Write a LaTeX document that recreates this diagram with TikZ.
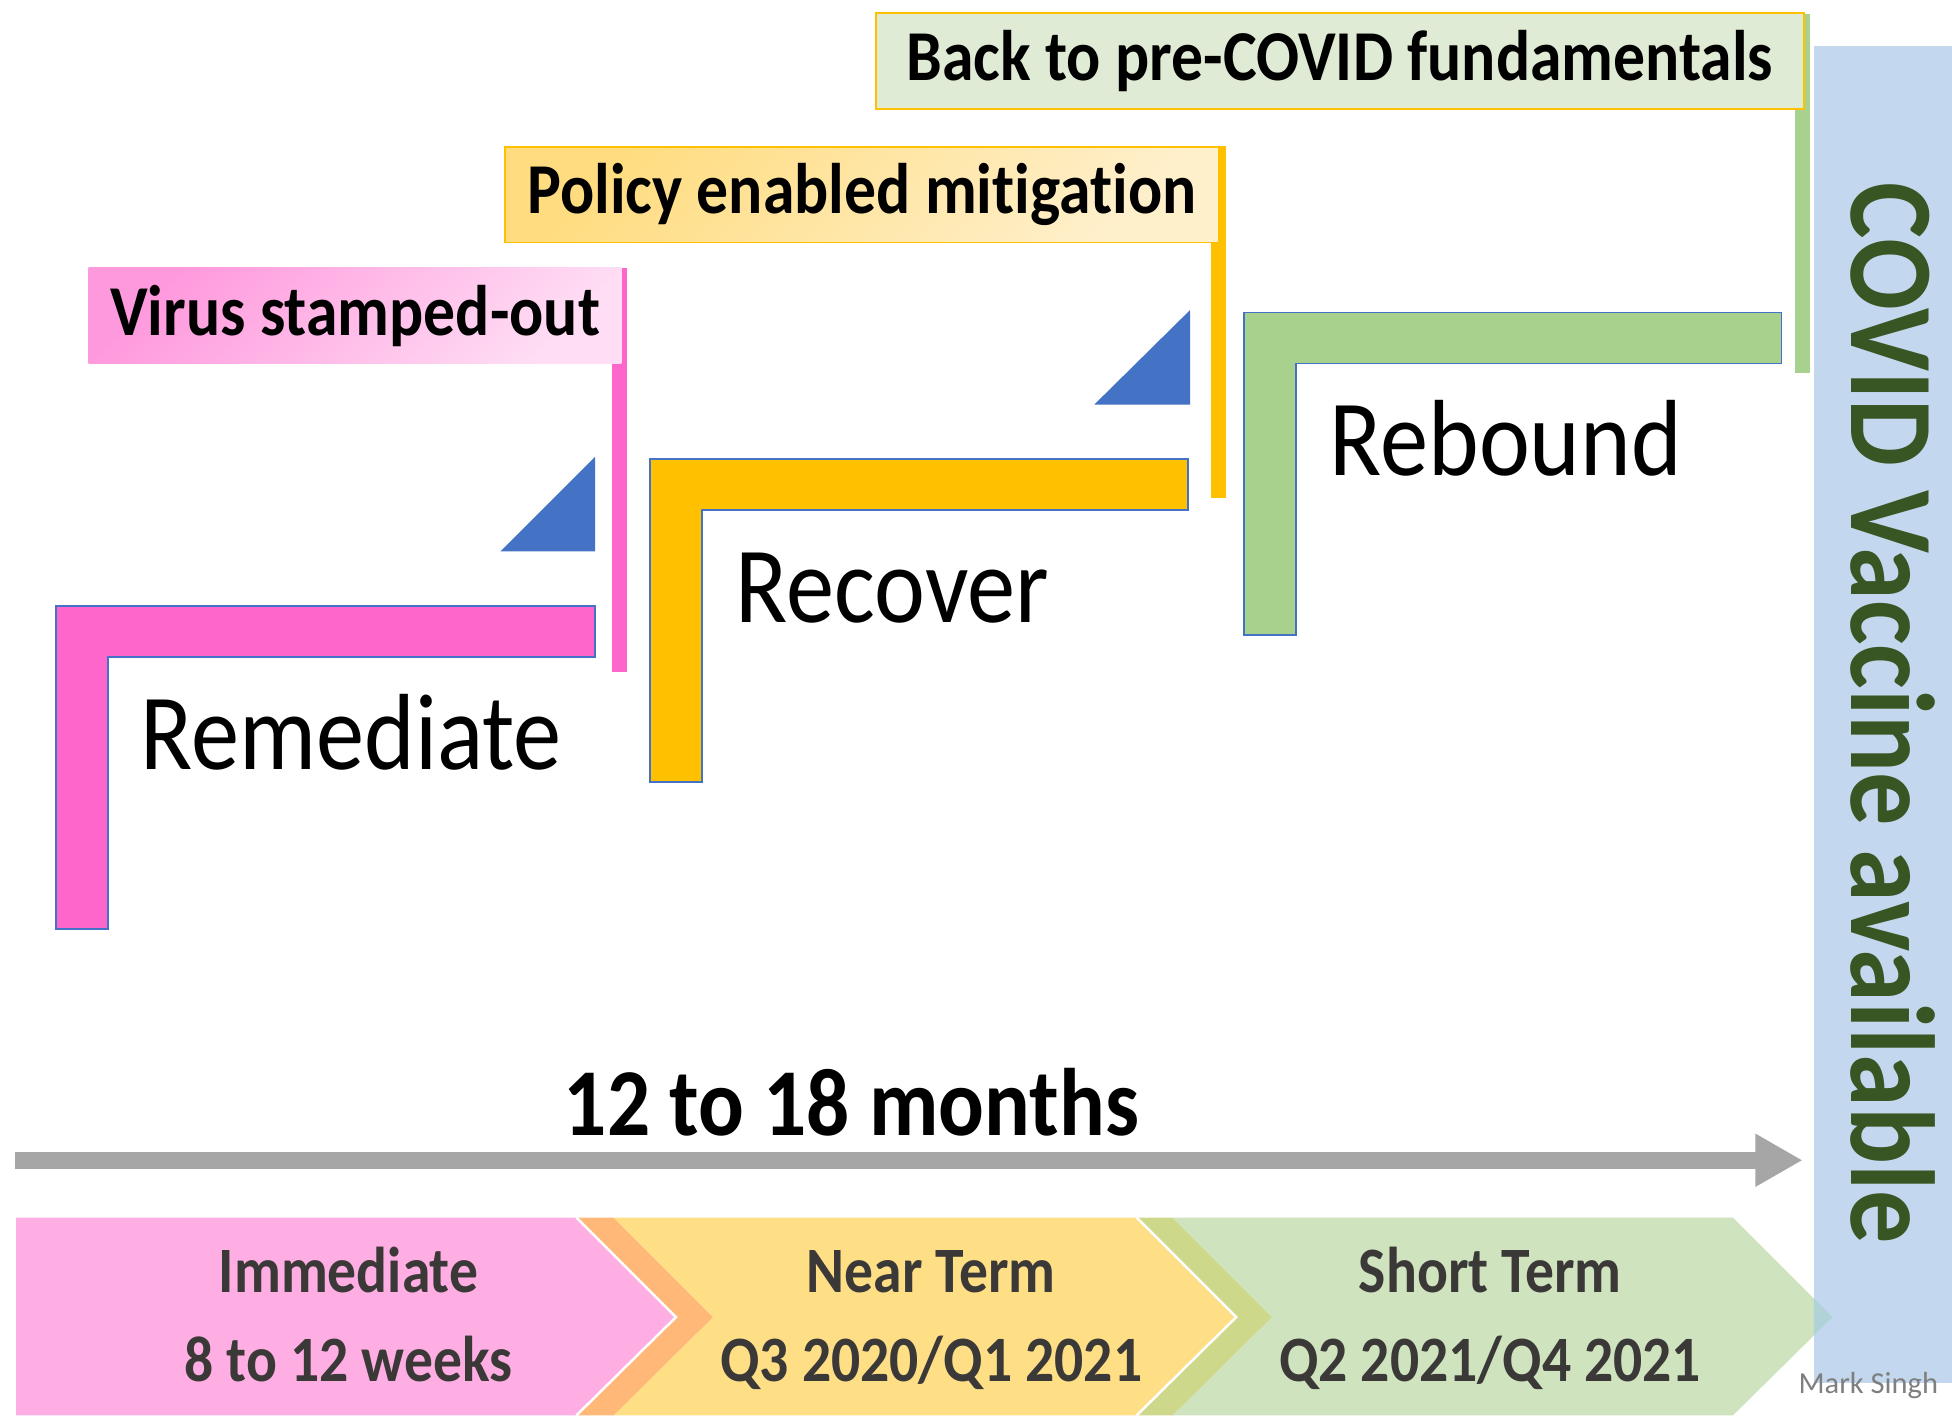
\documentclass[tikz,border=0pt]{standalone}
\usepackage{fontspec}
\setmainfont{Carlito}[FakeStretch=0.89, Ligatures=NoCommon]
\newfontfamily\signfont{Carlito}
\usetikzlibrary{arrows.meta}
\definecolor{remPink}{HTML}{FF66CC}
\definecolor{recYellow}{HTML}{FFC000}
\definecolor{rebGreen}{HTML}{A9D18E}
\definecolor{edgeBlue}{HTML}{4472C4}
\definecolor{vacBlue}{HTML}{C3D8EE}
\definecolor{vacGreen}{HTML}{375623}
\definecolor{flagPinkA}{HTML}{FF99DD}
\definecolor{flagPinkB}{HTML}{FFDDF4}
\definecolor{flagYellowA}{HTML}{FFDC7F}
\definecolor{flagYellowB}{HTML}{FFF0CC}
\definecolor{flagGreen}{HTML}{E0EBD5}
\definecolor{chevPink}{HTML}{FFAEE3}
\definecolor{chevOrange}{HTML}{FFB878}
\definecolor{chevYellow}{HTML}{FFDF85}
\definecolor{chevOlive}{HTML}{CED88A}
\definecolor{chevGreen}{HTML}{CFE3BE}
\definecolor{chevTeal}{HTML}{AFD3D6}
\definecolor{chevText}{HTML}{3B3838}
\definecolor{lineGray}{HTML}{A6A6A6}
\definecolor{signGray}{HTML}{7F7F7F}

\begin{document}
\begin{tikzpicture}[x=1pt, y=-1pt,
        lshape/.style={draw=edgeBlue, line width=1.5},
        phase/.style={anchor=base west, inner sep=0, font=\fontsize{87}{90}\selectfont},
        flagbox/.style={anchor=north west, inner sep=0, font=\bfseries\fontsize{57.5}{60}\selectfont},
        chevtext/.style={anchor=base, inner sep=0, text=chevText, font=\bfseries\fontsize{52}{55}\selectfont}]
                        \useasboundingbox (0,0) rectangle (1568,1137);

                        % bottom chevrons
                        \fill[chevPink] (13,978) -- (463,978) -- (543,1058) -- (463,1137) -- (13,1137) -- cycle;
                        \fill[chevOrange] (463,978) -- (493,978) -- (573,1058) -- (493,1137) -- (463,1137) -- (543,1058) -- cycle;
                        \fill[chevYellow] (493,978) -- (913,978) -- (993,1058) -- (913,1137) -- (493,1137) -- (573,1058) -- cycle;
                        \fill[chevOlive] (913,978) -- (942,978) -- (1022,1058) -- (942,1137) -- (913,1137) -- (993,1058) -- cycle;
                        \fill[chevGreen] (942,978) -- (1392,978) -- (1472,1058) -- (1392,1137) -- (942,1137) -- (1022,1058) -- cycle;
                        \draw[white, line width=2] (463,978) -- (543,1058) -- (463,1137);
                        \draw[white, line width=2] (913,978) -- (993,1058) -- (913,1137);

                        \node[chevtext] (imm) at (280,1038) {Immediate};
                        \node[chevtext] (immw) at (280,1110) {8 to 12 weeks};
                        \node[chevtext] (near) at (748,1038) {Near Term};
                        \node[chevtext] (nearq) at (748,1110) {Q3 2020/Q1 2021};
                        \node[chevtext] (short) at (1197,1038) {Short Term};
                        \node[chevtext] (shortq) at (1197,1110) {Q2 2021/Q4 2021};

                        % vaccine bar
                        \fill[vacBlue] (1457,37) rectangle (1568,1111);
                        \fill[chevTeal] (1457,1043) -- (1472,1058) -- (1457,1073) -- cycle;
                        \node[rotate=-90, anchor=base, inner sep=0, text=vacGreen, font=\bfseries\fontsize{96}{100}\selectfont] (vac) at (1487,573) {COVID Vaccine available};
                        \node[anchor=base east, inner sep=0, text=signGray, font=\signfont\fontsize{24.5}{26}\selectfont] (sign) at (1557,1119) {Mark Singh};

                        % timeline
                        \coordinate (t0) at (12,932);
                        \coordinate (t1) at (1448,932);
                        \draw[lineGray, line width=14, -{Triangle[length=38pt, width=40pt]}] (t0) -- (t1);
                        \node[anchor=base, inner sep=0, font=\bfseries\fontsize{77}{80}\selectfont] (span) at (684,912) {12 to 18 months};

                        % steps
                        \filldraw[lshape, fill=remPink] (45,487) -- (478,487) -- (478,528) -- (87,528) -- (87,746) -- (45,746) -- cycle;
                        \filldraw[lshape, fill=recYellow] (522,369) -- (954,369) -- (954,410) -- (564,410) -- (564,628) -- (522,628) -- cycle;
                        \filldraw[lshape, fill=rebGreen] (999,251) -- (1431,251) -- (1431,292) -- (1041,292) -- (1041,510) -- (999,510) -- cycle;
                        \node[phase] (rem) at (113,618) {Remediate};
                        \node[phase] (rec) at (591,500) {Recover};
                        \node[phase] (reb) at (1068,382) {Rebound};

                        \fill[edgeBlue] (402,443) -- (478,443) -- (478,367) -- cycle;
                        \fill[edgeBlue] (879,325) -- (956,325) -- (956,249) -- cycle;

                        % flags
                        \fill[remPink] (492,215) rectangle (504,540);
                        \node[flagbox, minimum width=428, minimum height=77, top color=flagPinkA, bottom color=flagPinkB, shading angle=45] (virus) at (71,215) {Virus stamped-out};
                        \fill[recYellow] (973,117) rectangle (985,400);
                        \node[flagbox, minimum width=573, minimum height=77, draw=recYellow, line width=1.5, top color=flagYellowA, bottom color=flagYellowB, shading angle=45] (policy) at (405,117) {Policy enabled mitigation};
                        \fill[rebGreen] (1442,11) rectangle (1454,300);
                        \node[flagbox, minimum width=745, minimum height=77, fill=flagGreen, draw=recYellow, line width=1.5] (back) at (703,10) {Back to pre-COVID fundamentals};
\end{tikzpicture}
\end{document}
